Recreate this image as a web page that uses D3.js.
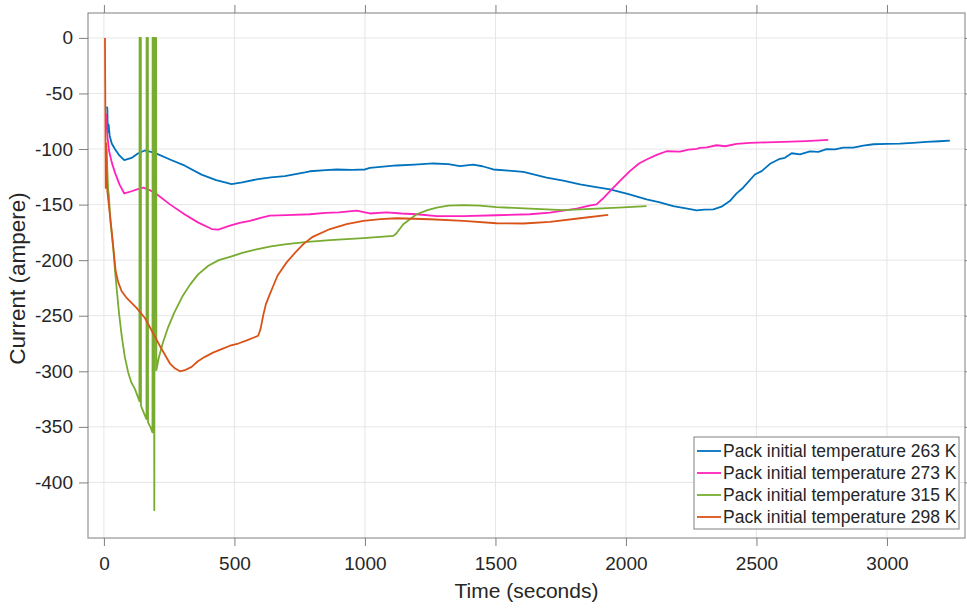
<!DOCTYPE html>
<html><head><meta charset="utf-8">
<script src="https://cdn.jsdelivr.net/npm/d3@7"></script>
<style>body{margin:0;background:#fff} text{font-family:"Liberation Sans", Arial, Helvetica, sans-serif; fill:#262626}</style>
</head><body><svg id="c" width="967" height="608"></svg>
<script>
// ---- data ----
const xTicks = [0, 500, 1000, 1500, 2000, 2500, 3000];
const yTicks = [0, -50, -100, -150, -200, -250, -300, -350, -400];
const seriesNames = ["Pack initial temperature 263 K", "Pack initial temperature 273 K", "Pack initial temperature 315 K", "Pack initial temperature 298 K"];
const seriesColors = ["#0072BD", "#FF22BB", "#77AC30", "#D95319"];

const t263 = [10,13,15,18,22,30,42,60,78,106,130,157,195,253,310,374,430,464,489,530,591,640,693,770,789,850,891,950,1000,1019,1060,1121,1190,1262,1320,1364,1415,1450,1492,1550,1607,1650,1696,1760,1824,1880,1939,2010,2079,2130,2181,2230,2271,2300,2335,2366,2398,2424,2449,2494,2520,2552,2590,2609,2635,2667,2705,2737,2769,2801,2833,2871,2909,2948,3000,3050,3100,3152,3200,3241];
const i263 = [-62,-63,-85,-78,-88,-95,-100,-106,-110,-108,-104,-101.3,-103.4,-109.4,-115,-123,-128,-130,-131.5,-130,-127,-125.5,-124.4,-121,-120,-119,-118.4,-118.8,-118.4,-116.9,-116,-114.8,-114,-113,-113.5,-115.4,-114,-115.5,-118.4,-119.5,-120.5,-123,-125.8,-128.5,-131.8,-134,-136.3,-140.5,-145.3,-148,-151.3,-153.5,-155.2,-154.6,-154.3,-151.9,-146.8,-139.9,-134.8,-122.9,-119.9,-113.3,-108.8,-107.9,-103.8,-104.9,-102.2,-102.5,-100.1,-100.4,-98.7,-98.7,-96.9,-95.7,-95.3,-95.1,-94.4,-93.6,-93,-92.4];

const t273 = [8,11,14,20,30,42,60,78,106,130,151,175,195,253,310,360,413,438,483,520,559,600,636,700,789,850,900,968,1000,1019,1083,1140,1198,1275,1377,1504,1632,1709,1760,1811,1860,1887,1910,1939,1980,2015,2050,2079,2120,2156,2207,2240,2271,2284,2310,2347,2380,2424,2475,2540,2603,2690,2775];
const i273 = [-68,-80,-90,-102,-112,-121,-132,-140,-138,-136,-134.8,-137,-139.3,-149.8,-159,-166,-172,-172.5,-169,-166.5,-164.7,-162,-160,-159.5,-158.7,-157.5,-157,-155.5,-157,-158,-157,-158,-158.7,-160.3,-160.3,-159.6,-158.7,-157.2,-155.5,-153.6,-151,-149.8,-145,-137.8,-128,-119.9,-113,-109.4,-105,-102,-102.4,-100.5,-99.8,-99,-98.5,-96.6,-97.5,-95.4,-94.5,-94,-93.6,-92.8,-91.8];

const t315 = [10,16,19,25,36,42,49,58,68,80,93,105,119,130,136,136.5,141.5,142,152,163,163.5,168.5,169,178,186,186.5,191,193,195,200,201,210,225,245,270,300,330,360,400,440,483,530,580,640,700,780,866,994,1109,1120,1147,1198,1240,1275,1320,1377,1440,1504,1632,1760,1887,1990,2079];
const i315 = [-100,-136,-142,-165,-190,-208,-226,-248,-268,-287,-301,-310,-316,-323,-327,0,0,-331,-337,-343,0,0,-346,-350,-355,0,0,-425,0,0,-299,-288,-275,-261,-247,-233,-222,-213,-205,-200,-197,-193.5,-190.5,-187.5,-185.5,-183.5,-182,-180.2,-178.2,-176,-167.7,-158.7,-155,-152.7,-151,-150.4,-151,-152.3,-153.6,-154.9,-153.6,-152.5,-151.3];

const t298 = [4,7,9,11,14,29,45,55,68,87,125,157,189,221,253,270,291,310,336,360,387,420,451,483,515,550,570,591,600,610,620,635,649,665,685,700,730,764,800,866,930,994,1060,1121,1249,1377,1504,1607,1709,1824,1932];
const i298 = [0,-135,-95,-130,-140,-172,-210,-220,-228,-234,-243,-252,-266,-280,-293,-297,-300,-299,-296,-291,-287,-283,-280,-277,-275,-272,-270,-268,-262,-250,-240,-231,-223,-214,-207,-202,-194,-185.6,-179,-172,-167.5,-164.7,-163,-162.3,-163.2,-164.7,-166.8,-167,-165.6,-162.3,-159.3];

const seriesT = [t263, t273, t315, t298];
const seriesI = [i263, i273, i315, i298];

// ---- layout ----
const L = 88, R = 965, T = 13, B = 538;
const svg = d3.select("#c");
const x = d3.scaleLinear().domain([-61, 3299]).range([L, R]);
const y = d3.scaleLinear().domain([-450, 22.4]).range([B, T]);

// grid
const grid = svg.append("g");
grid.selectAll("line.vx").data(xTicks).enter().append("line")
  .attr("x1", d => x(d)).attr("x2", d => x(d)).attr("y1", T).attr("y2", B)
  .attr("stroke", "#e6e6e6").attr("stroke-width", 1);
grid.selectAll("line.hy").data(yTicks).enter().append("line")
  .attr("y1", d => y(d)).attr("y2", d => y(d)).attr("x1", L).attr("x2", R)
  .attr("stroke", "#e6e6e6").attr("stroke-width", 1);

// axes
const axColor = "#7f7f7f";
const xAxis = svg.append("g").attr("transform", `translate(0,${B})`)
  .call(d3.axisBottom(x).tickValues(xTicks).tickSize(8).tickPadding(11).tickFormat(d3.format("d")));
const xAxisTop = svg.append("g").attr("transform", `translate(0,${T})`)
  .call(d3.axisTop(x).tickValues(xTicks).tickSize(8).tickFormat(""));
const yAxis = svg.append("g").attr("transform", `translate(${L},0)`)
  .call(d3.axisLeft(y).tickValues(yTicks).tickSize(9).tickPadding(6).tickFormat(d => String(d)));
const yAxisR = svg.append("g").attr("transform", `translate(${R},0)`)
  .call(d3.axisRight(y).tickValues(yTicks).tickSize(9).tickFormat(""));
[xAxis, xAxisTop, yAxis, yAxisR].forEach(g => {
  g.select(".domain").remove();
  g.selectAll(".tick line").attr("stroke", axColor);
  g.selectAll("text").style("font-size", "19px").attr("fill", "#262626");
});
svg.append("rect").attr("x", L).attr("y", T).attr("width", R - L).attr("height", B - T)
  .attr("fill", "none").attr("stroke", axColor).attr("stroke-width", 1);

// lines
const line = d3.line().x(d => x(d[0])).y(d => y(d[1]));
const plot = svg.append("g");
seriesT.forEach((ts, k) => {
  const pts = ts.map((t, j) => [t, seriesI[k][j]]);
  plot.append("path").datum(pts).attr("d", line)
    .attr("fill", "none").attr("stroke", seriesColors[k])
    .attr("stroke-width", 1.8).attr("stroke-linejoin", "round");
});

// labels
svg.append("text").attr("x", (L + R) / 2).attr("y", 598).attr("text-anchor", "middle")
  .style("font-size", "21px").text("Time (seconds)");
svg.append("text").attr("transform", `translate(25,${(T + B) / 2 + 3}) rotate(-90)`)
  .attr("text-anchor", "middle").style("font-size", "22.5px").text("Current (ampere)");

// legend
const lg = svg.append("g");
lg.append("rect").attr("x", 694).attr("y", 437).attr("width", 265).attr("height", 92)
  .attr("fill", "#fff").attr("stroke", "#808080").attr("stroke-width", 1);
seriesNames.forEach((n, k) => {
  const cy = 451 + k * 22;
  lg.append("line").attr("x1", 697).attr("x2", 721).attr("y1", cy).attr("y2", cy)
    .attr("stroke", seriesColors[k]).attr("stroke-width", 1.8);
  lg.append("text").attr("x", 723).attr("y", cy).attr("dy", "0.36em")
    .style("font-size", "17.5px").text(n);
});
</script></body></html>
